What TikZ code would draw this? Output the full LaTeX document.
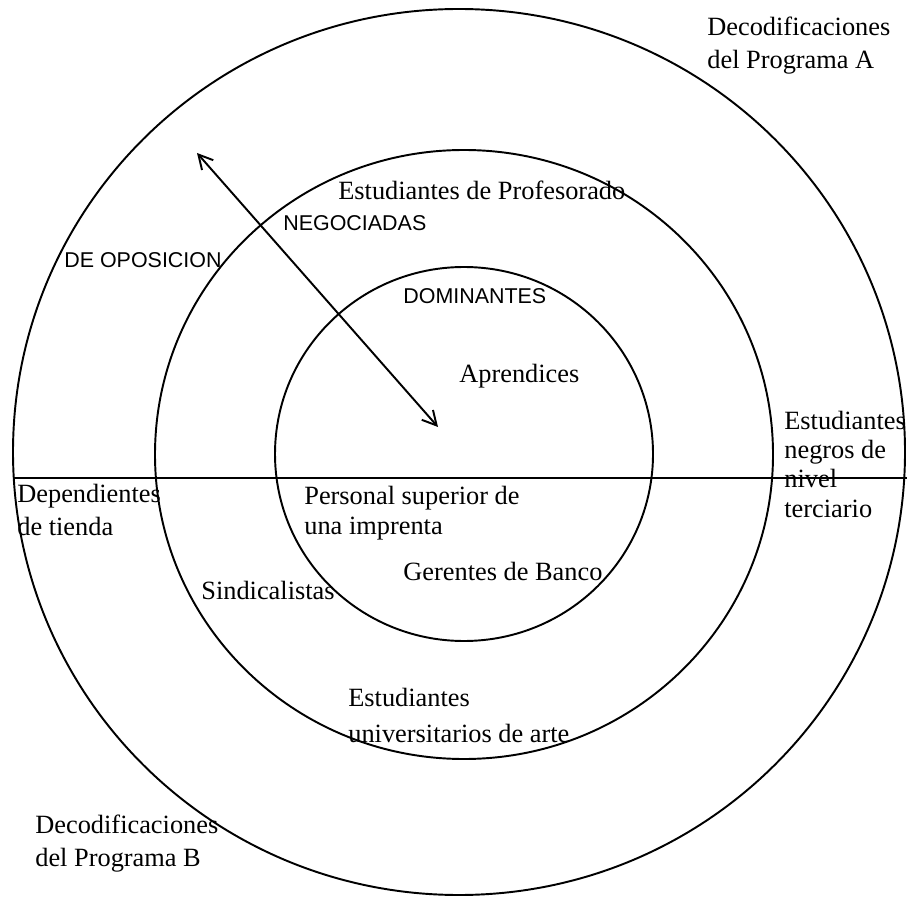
\documentclass[tikz,border=0pt]{standalone}
\usepackage{fontspec}
\setmainfont{Liberation Serif}
\newfontfamily\arialfont{Liberation Sans}
\usetikzlibrary{arrows.meta}

\begin{document}
\begin{tikzpicture}[>={Straight Barb[length=8pt,width=8.5pt]},
    ring/.style={line width=1.1pt},
    grupo/.style={inner sep=0pt, anchor=base west, align=left, font=\fontsize{15}{18.5}\selectfont},
    lectura/.style={inner sep=0pt, anchor=base west, font=\arialfont\fontsize{12.2}{14}\selectfont}]
  \useasboundingbox (0, 0) rectangle (18.14, 17.92);

  % the three readings
  \draw[ring] (9.18, 8.88) ellipse (8.92 and 8.86);
  \draw[ring] (9.28, 8.83) ellipse (6.18 and 6.09);
  \draw[ring] (9.28, 8.84) ellipse (3.78 and 3.74);
  \draw[line width=1.3pt] (0.26, 8.36) -- (18.14, 8.36);

  \coordinate (tipA) at (3.94, 14.86);
  \coordinate (tipB) at (8.76, 9.38);
  \draw[<->, line width=1.1pt] (tipA) -- (tipB);

  \node[lectura] (oposicion) at (1.28, 12.56) {DE OPOSICION};
  \node[lectura] (negociadas) at (5.66, 13.30) {NEGOCIADAS};
  \node[lectura] (dominantes) at (8.06, 11.84) {DOMINANTES};

  % multi-line texts sit on their last line
  \node[grupo] (progA) at (14.14, 16.55) {Decodificaciones\\del Programa A};
  \node[grupo] (progB) at (0.70, 0.60) {Decodificaciones\\del Programa B};
  \node[grupo] (profesorado) at (6.76, 13.92) {Estudiantes de Profesorado};
  \node[grupo] (aprendices) at (9.18, 10.28) {Aprendices};
  \node[grupo, font=\fontsize{15}{16.6}\selectfont] (negros) at (15.68, 7.58) {Estudiantes\\negros de\\nivel\\terciario};
  \node[grupo] (tienda) at (0.34, 7.22) {Dependientes\\de tienda};
  \node[grupo, font=\fontsize{15}{16.6}\selectfont] (imprenta) at (6.08, 7.24) {Personal superior de\\una imprenta};
  \node[grupo] (banco) at (8.06, 6.32) {Gerentes de Banco};
  \node[grupo] (sindicalistas) at (4.02, 5.94) {Sindicalistas};
  \node[grupo, font=\fontsize{15}{20}\selectfont] (arte) at (6.96, 3.08) {Estudiantes\\universitarios de arte};
\end{tikzpicture}
\end{document}
